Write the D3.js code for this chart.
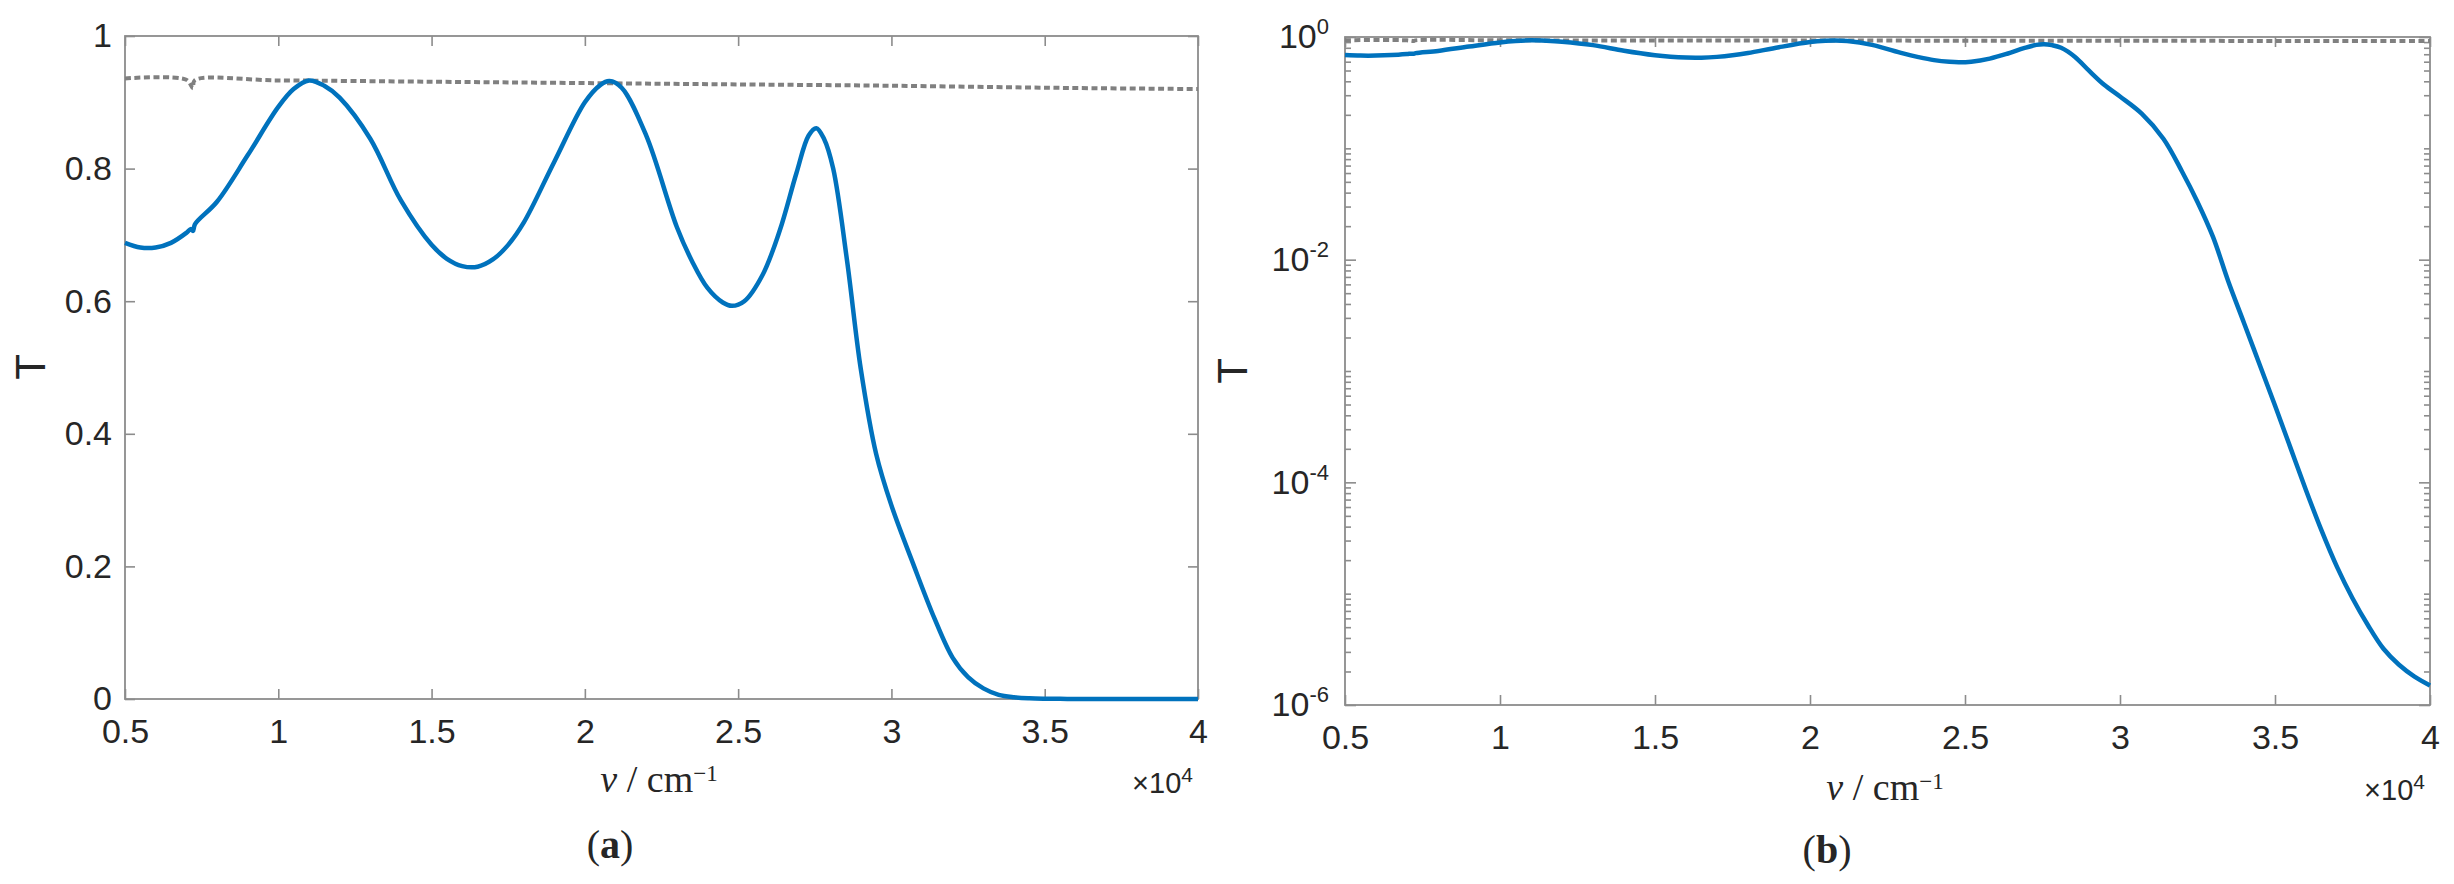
<!DOCTYPE html>
<html>
<head>
<meta charset="utf-8">
<script src="https://cdn.jsdelivr.net/npm/d3@7"></script>
<style>
  body { margin: 0; background: #fff; }
  svg text { font-family: "Liberation Sans", Arial, sans-serif; fill: #262626; }
  svg text.serif { font-family: "Liberation Serif", "DejaVu Serif", serif; }
</style>
</head>
<body>
<svg id="fig" width="2454" height="884"></svg>
<script>
// wavenumber in units of 1e4 cm^-1, transmittance
var nuBlue = [0.50, 0.55, 0.60, 0.65, 0.70, 0.715, 0.722, 0.728, 0.80, 0.90,
              1.00, 1.05, 1.10, 1.15, 1.20, 1.30, 1.40, 1.50, 1.55, 1.60,
              1.65, 1.70, 1.75, 1.80, 1.90, 2.00, 2.05, 2.08, 2.12, 2.20,
              2.30, 2.35, 2.40, 2.45, 2.48, 2.52, 2.58, 2.636, 2.69, 2.73,
              2.755, 2.78, 2.81, 2.855, 2.90, 2.95, 3.00, 3.07, 3.14, 3.20,
              3.25, 3.30, 3.35, 3.40, 3.45, 3.50, 3.55, 3.60, 3.65, 3.70,
              3.75, 3.80, 3.85, 3.90, 3.95, 4.00];
var tBlue = [0.688, 0.681, 0.681, 0.688, 0.703, 0.709, 0.706, 0.716, 0.750, 0.820,
             0.893, 0.920, 0.933, 0.925, 0.907, 0.845, 0.752, 0.685, 0.664, 0.653,
             0.652, 0.663, 0.685, 0.718, 0.810, 0.900, 0.926, 0.932, 0.922, 0.850,
             0.712, 0.660, 0.620, 0.598, 0.593, 0.600, 0.640, 0.707, 0.793, 0.850,
             0.861, 0.845, 0.800, 0.662, 0.498, 0.370, 0.292, 0.205, 0.122, 0.062,
             0.033, 0.016, 0.0063, 0.0027, 0.00115, 0.00049, 0.000204, 8.5e-5, 3.7e-5, 1.74e-5,
             9.1e-6, 5.2e-6, 3.2e-6, 2.3e-6, 1.8e-6, 1.5e-6];

var nuGray = [0.50, 0.70, 0.722, 0.727, 1.00, 1.50, 2.00, 2.50, 3.00, 3.50, 4.00];
var tGray  = [0.936, 0.934, 0.921, 0.933, 0.933, 0.931, 0.929, 0.927, 0.925, 0.922, 0.920];

var xTicks = [0.5, 1, 1.5, 2, 2.5, 3, 3.5, 4];
var yTicksLin = [0, 0.2, 0.4, 0.6, 0.8, 1];
var yTicksLog = [1e-6, 1e-4, 1e-2, 1];

var axisColor = '#8c8c8c';
var svg = d3.select('#fig');

var panels = [
  { log: false, left: 125, right: 1198, top: 36, bottom: 699,
    tX: 30, tY: 367, nuX: 659, nuY: 792, expY: 793, capX: 610, capY: 858, cap: 'a' },
  { log: true, left: 1345, right: 2430, top: 37, bottom: 705,
    tX: 1232, tY: 371, nuX: 1885, nuY: 800, expY: 800, capX: 1827, capY: 863, cap: 'b' }
];

function styleAxis(sel, size) {
  sel.select('.domain').remove();
  sel.attr('font-size', size).attr('font-family', null);
  sel.selectAll('line').attr('stroke', axisColor).attr('stroke-width', 1.6);
  sel.selectAll('text').attr('fill', '#262626');
}

function drawPanel(p) {
  var w = p.right - p.left, h = p.bottom - p.top;
  var g = svg.append('g').attr('transform', 'translate(' + p.left + ',' + p.top + ')');

  var x = d3.scaleLinear().domain([0.5, 4]).range([0, w]);
  var y = p.log
    ? d3.scaleLog().domain([1e-6, 1]).range([h, 0])
    : d3.scaleLinear().domain([0, 1]).range([h, 0]);

  // x axes, ticks pointing inward on bottom and top
  g.append('g').attr('transform', 'translate(0,' + h + ')')
    .call(d3.axisBottom(x).tickValues(xTicks).tickSizeInner(-10).tickSizeOuter(0)
      .tickPadding(20).tickFormat(function(d) { return String(d); }))
    .call(styleAxis, 34);
  g.append('g')
    .call(d3.axisTop(x).tickValues(xTicks).tickSizeInner(-10).tickSizeOuter(0).tickFormat(''))
    .call(styleAxis, 34);

  if (!p.log) {
    g.append('g')
      .call(d3.axisLeft(y).tickValues(yTicksLin).tickSizeInner(-10).tickSizeOuter(0)
        .tickPadding(13).tickFormat(function(d) { return String(d); }))
      .call(styleAxis, 34);
    g.append('g').attr('transform', 'translate(' + w + ',0)')
      .call(d3.axisRight(y).tickValues(yTicksLin).tickSizeInner(-10).tickSizeOuter(0).tickFormat(''))
      .call(styleAxis, 34);
  } else {
    var minor = [];
    for (var e = -6; e < 0; e++) {
      for (var k = 2; k <= 9; k++) minor.push(k * Math.pow(10, e));
      if (e % 2 !== 0) minor.push(Math.pow(10, e));
    }
    var yl = g.append('g')
      .call(d3.axisLeft(y).tickValues(yTicksLog).tickSizeInner(-11).tickSizeOuter(0)
        .tickPadding(16).tickFormat(function() { return ''; }))
      .call(styleAxis, 34);
    yl.selectAll('.tick text').each(function(d) {
      var t = d3.select(this);
      t.append('tspan').text('10');
      t.append('tspan').attr('dy', -14).attr('font-size', 22)
        .text(String(Math.round(Math.log10(d))));
    });
    g.append('g')
      .call(d3.axisLeft(y).tickValues(minor).tickSizeInner(-6).tickSizeOuter(0).tickFormat(''))
      .call(styleAxis, 34);
    g.append('g').attr('transform', 'translate(' + w + ',0)')
      .call(d3.axisRight(y).tickValues(yTicksLog).tickSizeInner(-11).tickSizeOuter(0).tickFormat(''))
      .call(styleAxis, 34);
    g.append('g').attr('transform', 'translate(' + w + ',0)')
      .call(d3.axisRight(y).tickValues(minor).tickSizeInner(-6).tickSizeOuter(0).tickFormat(''))
      .call(styleAxis, 34);
  }

  // box
  g.append('rect').attr('width', w).attr('height', h)
    .attr('fill', 'none').attr('stroke', axisColor).attr('stroke-width', 1.8);

  // curves
  var line = d3.line()
    .x(function(d) { return x(d[0]); })
    .y(function(d) { return y(d[1]); })
    .curve(d3.curveCatmullRom.alpha(0.5));

  g.append('path').datum(d3.zip(nuGray, tGray))
    .attr('d', line).attr('fill', 'none')
    .attr('stroke', '#808080').attr('stroke-width', 4)
    .attr('stroke-dasharray', '6,3.5');

  g.append('path').datum(d3.zip(nuBlue, tBlue))
    .attr('d', line).attr('fill', 'none')
    .attr('stroke', '#0072BD').attr('stroke-width', 4.5)
    .attr('stroke-linejoin', 'round');

  // y label
  svg.append('text')
    .attr('transform', 'translate(' + p.tX + ',' + p.tY + ') rotate(-90)')
    .attr('text-anchor', 'middle').attr('dy', '0.36em')
    .attr('font-size', 42).text('T');

  // x label
  var xl = svg.append('text').attr('class', 'serif')
    .attr('x', p.nuX).attr('y', p.nuY)
    .attr('text-anchor', 'middle').attr('font-size', 38);
  xl.append('tspan').attr('font-style', 'italic').text('ν');
  xl.append('tspan').text(' / cm');
  xl.append('tspan').attr('dy', -11).attr('font-size', 23).text('−1');

  // exponent
  var ex = svg.append('text')
    .attr('x', p.right - 5).attr('y', p.expY)
    .attr('text-anchor', 'end').attr('font-size', 29);
  ex.append('tspan').text('×10');
  ex.append('tspan').attr('dy', -11).attr('font-size', 21).text('4');

  // caption
  var cp = svg.append('text').attr('class', 'serif')
    .attr('x', p.capX).attr('y', p.capY)
    .attr('text-anchor', 'middle').attr('font-size', 40);
  cp.append('tspan').text('(');
  cp.append('tspan').attr('font-weight', 'bold').text(p.cap);
  cp.append('tspan').text(')');
}

panels.forEach(drawPanel);
</script>
</body>
</html>
